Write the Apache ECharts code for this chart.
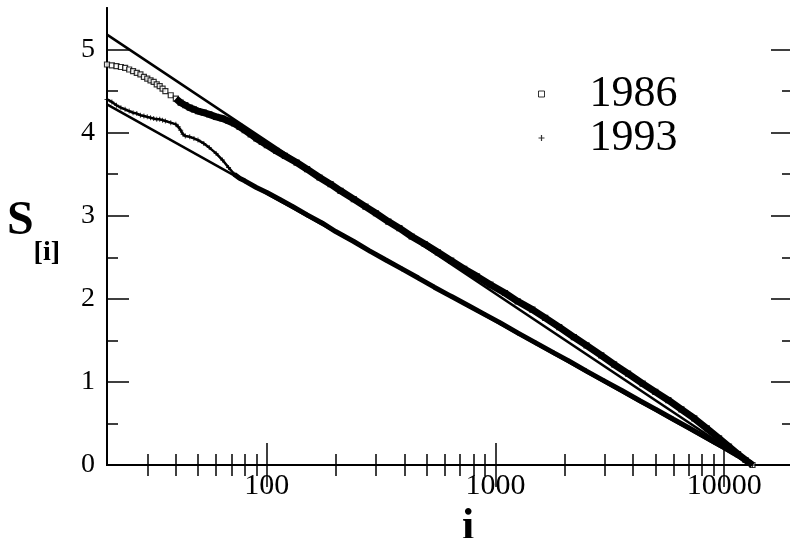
<!DOCTYPE html>
<html>
<head>
<meta charset="utf-8">
<script src="https://cdn.jsdelivr.net/npm/echarts@6/dist/echarts.min.js"></script>
<style>
  html, body { margin: 0; padding: 0; background: #fff; }
  #chart { width: 790px; height: 538px; }
</style>
</head>
<body>
<div id="chart"></div>
<script>
// Rank i and size S_[i] for the 1986 sample
const rank1986 = [20,21,22,23,24,25,26,27,28,29,30,31,32,33,34,35,36,38,40,42,44,46,48,50,
  53,56,60,64,68,72,76,80,85,90,95,100,110,120,135,150,170,190,210,240,270,300,
  340,380,430,490,560,640,730,830,950,1100,1250,1450,1650,1900,2200,2500,2900,3300,3800,4400,
  5000,5700,6500,7400,8400,9500,10500,11500,12400,13300];
const size1986 = [4.82,4.81,4.80,4.79,4.78,4.76,4.74,4.72,4.70,4.67,4.65,4.63,4.61,4.58,4.56,4.53,4.50,
  4.45,4.41,4.36,4.33,4.30,4.28,4.26,
  4.24,4.22,4.19,4.17,4.14,4.11,4.07,4.03,3.98,3.93,3.89,3.85,
  3.78,3.72,3.64,3.56,3.46,3.38,3.30,3.20,3.11,3.03,
  2.93,2.85,2.75,2.66,2.56,2.46,2.36,2.27,2.17,
  2.07,1.97,1.87,1.77,1.66,1.54,1.44,1.32,1.21,1.10,0.98,
  0.88,0.78,0.67,0.56,0.44,0.32,0.22,0.13,0.06,0.00];

// Rank i and size S_[i] for the 1993 sample
const rank1993 = [20,21,22,23,24,25,26,27,28,29,30,31,32,33,34,35,36,38,40,41,42,43,44,46,48,50,
  53,56,60,64,68,72,76,80,90,100,115,130,150,175,200,240,280,330,390,460,
  540,640,760,900,1050,1250,1500,1800,2100,2500,3000,3600,4300,5100,6000,7000,8000,9000,10000,11000,
  12000,13000,13300];
const size1993 = [4.40,4.37,4.33,4.30,4.28,4.26,4.24,4.23,4.21,4.20,4.19,4.18,4.17,4.16,4.16,4.15,4.14,
  4.12,4.10,4.07,4.03,3.98,3.96,3.95,3.93,3.91,
  3.87,3.82,3.75,3.67,3.58,3.50,3.45,3.42,3.34,3.28,
  3.19,3.11,3.01,2.91,2.81,2.69,2.58,2.47,2.36,2.25,
  2.14,2.03,1.92,1.81,1.71,1.59,1.47,1.35,1.25,1.13,
  1.01,0.89,0.77,0.66,0.55,0.45,0.36,0.28,0.21,0.14,
  0.08,0.03,0.00];

// Straight reference lines (end points)
const fitRank = [20, 13300];
const fit1986 = [5.18, 0];
const fit1993 = [4.34, 0];

// Tick positions
const xMajorTicks = [100, 1000, 10000];
const xMinorTicks = [30,40,50,60,70,80,90,200,300,400,500,600,700,800,900,2000,3000,4000,5000,6000,7000,8000,9000];
const yMajorTicks = [0, 1, 2, 3, 4, 5];
const yMinorTicks = [0.5, 1.5, 2.5, 3.5, 4.5];

const serif = 'Liberation Serif';
const pairs = (xs, ys) => xs.map((x, k) => [x, ys[k]]);
const pts1986 = pairs(rank1986, size1986);
const pts1993 = pairs(rank1993, size1993);
const plusIcon = 'path://M2,0H3V2H5V3H3V5H2V3H0V2H2Z';

function xAxisDef(position, ticks, len, withLabels) {
  return {
    type: 'log', logBase: 10, min: 20, max: 20000, position,
    axisLine: { show: true, lineStyle: { color: '#000', width: 2 } },
    axisTick: { show: true, inside: true, length: len, customValues: ticks, lineStyle: { color: '#000', width: 1.5 } },
    axisLabel: withLabels ? {
      show: true, customValues: ticks, margin: 6, color: '#000', fontSize: 30, fontFamily: serif,
      formatter: v => String(v)
    } : { show: false },
    splitLine: { show: false }, minorTick: { show: false }
  };
}
function yAxisDef(position, ticks, len, withLabels) {
  return {
    type: 'value', min: 0, max: 5.5, position,
    axisLine: { show: position === 'left', lineStyle: { color: '#000', width: 2 } },
    axisTick: { show: true, inside: true, length: len, customValues: ticks, lineStyle: { color: '#000', width: 1.5 } },
    axisLabel: withLabels ? {
      show: true, customValues: ticks, margin: 12, color: '#000', fontSize: 28, fontFamily: serif
    } : { show: false },
    splitLine: { show: false }, minorTick: { show: false }
  };
}

const xMain = xAxisDef('bottom', xMajorTicks, 22, true);
xMain.name = 'i';
xMain.nameLocation = 'middle';
xMain.nameGap = 25;
xMain.nameTextStyle = { fontSize: 44, fontWeight: 'bold', fontFamily: serif, color: '#000', padding: [0, 0, 0, 36] };

const yMain = yAxisDef('left', yMajorTicks, 22, true);
yMain.name = '{s|S}{sub|[i]}';
yMain.nameLocation = 'middle';
yMain.nameRotate = 0;
yMain.nameGap = 47;
yMain.nameTextStyle = {
  color: '#000',
  rich: {
    s: { fontSize: 48, fontWeight: 'bold', fontFamily: serif, color: '#000', padding: [0, 0, 30, 0] },
    sub: { fontSize: 28, fontWeight: 'bold', fontFamily: serif, color: '#000', padding: [32, 0, 0, 0] }
  }
};

const chart = echarts.init(document.getElementById('chart'), null, { renderer: 'canvas' });
chart.setOption({
  animation: false,
  backgroundColor: '#fff',
  grid: { left: 107, width: 686, top: 8, bottom: 73, containLabel: false, outerBoundsMode: 'none' },
  xAxis: [
    xMain,
    xAxisDef('bottom', xMinorTicks, 11, false),
    xAxisDef('top', xMajorTicks, 22, false),
    xAxisDef('top', xMinorTicks, 11, false)
  ],
  yAxis: [
    yMain,
    yAxisDef('left', yMinorTicks, 11, false),
    yAxisDef('right', yMajorTicks, 22, false),
    yAxisDef('right', yMinorTicks, 11, false)
  ],
  legend: {
    orient: 'vertical', left: 533, top: 67, itemGap: 0,
    itemWidth: 6, itemHeight: 6, selectedMode: false,
    textStyle: { fontSize: 44, fontFamily: serif, color: '#000', padding: [0, 0, 0, 40] },
    data: [
      { name: '1986', icon: 'rect', itemStyle: { color: '#fff', borderColor: '#000', borderWidth: 1 } },
      { name: '1993', icon: plusIcon, itemStyle: { color: '#000' } }
    ]
  },
  series: [
    {
      name: '1986', type: 'scatter', data: pts1986, symbol: 'rect', symbolSize: 5,
      itemStyle: { color: '#fff', borderColor: '#000', borderWidth: 1.2 }, z: 3
    },
    {
      name: '1986 trace', type: 'line', data: pts1986.filter(p => p[0] >= 40), showSymbol: false,
      lineStyle: { color: '#000', width: 7 }, z: 4
    },
    {
      name: '1993', type: 'scatter', data: pts1993, symbol: plusIcon, symbolSize: 5,
      itemStyle: { color: '#000' }, z: 3
    },
    {
      name: '1993 sparse trace', type: 'line', data: pts1993.filter(p => p[0] <= 76), showSymbol: false,
      lineStyle: { color: '#000', width: 2.5 }, z: 4
    },
    {
      name: '1993 trace', type: 'line', data: pts1993.filter(p => p[0] >= 72), showSymbol: false,
      lineStyle: { color: '#000', width: 5 }, z: 4
    },
    {
      name: 'fit 1986', type: 'line', data: pairs(fitRank, fit1986), showSymbol: false,
      lineStyle: { color: '#000', width: 2.5 }, z: 5
    },
    {
      name: 'fit 1993', type: 'line', data: pairs(fitRank, fit1993), showSymbol: false,
      lineStyle: { color: '#000', width: 2.5 }, z: 5
    }
  ]
});
</script>
</body>
</html>
